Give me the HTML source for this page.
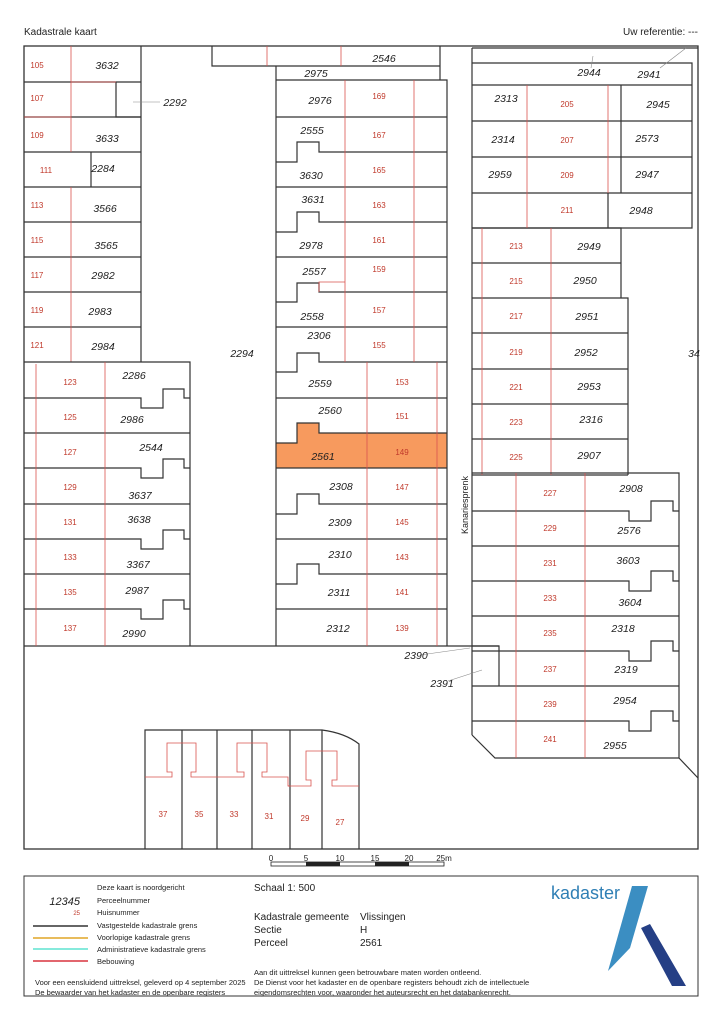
<!DOCTYPE html>
<html><head><meta charset="utf-8"><style>
html,body{margin:0;padding:0;background:#fff;}
svg{display:block;font-family:"Liberation Sans",sans-serif;}
.p{font-size:10.5px;font-style:italic;fill:#222;text-anchor:middle;}
.h{font-size:8px;fill:#c0392b;text-anchor:middle;}
.b{fill:none;stroke:#333;stroke-width:1.2;}
.r{fill:none;stroke:#d9534f;stroke-width:0.8;}
.l{font-size:7.5px;fill:#222;}
</style></head><body>
<svg width="724" height="1024" viewBox="0 0 724 1024" xmlns="http://www.w3.org/2000/svg">
<text x="24" y="35" font-size="10" fill="#222">Kadastrale kaart</text>
<text x="698" y="35" font-size="10" fill="#222" text-anchor="end">Uw referentie: ---</text>
<path d="M276,443 H297 V423 H319 V433 H447 V468 H276 Z" fill="#f79a5e"/>
<rect x="24" y="46" width="674" height="803" fill="none" stroke="#333" stroke-width="1.3"/>
<g class="b">
<path d="M141,46 V362"/>
<path d="M24,82 H141 M24,117 H141 M24,152 H141 M24,187 H141 M24,222 H141 M24,257 H141 M24,292 H141 M24,327 H141"/>
<path d="M116,82 V117 H141"/>
<path d="M91,152 V187"/>
</g>
<g class="r">
<path d="M71,46 V152 M71,187 V362 M24,117 H71 M71,82 H116"/>
</g>
<line x1="133" y1="102" x2="160" y2="102" stroke="#888" stroke-width="0.6"/>
<g class="b">
<path d="M24,362 H190 V646"/>
<path d="M24,398 H141 V408 H163 V389 H184 V398 H190"/>
<path d="M24,468 H141 V478 H163 V459 H184 V468 H190"/>
<path d="M24,539 H141 V549 H163 V530 H184 V539 H190"/>
<path d="M24,609 H141 V619 H163 V600 H184 V609 H190"/>
<path d="M24,433 H190 M24,504 H190 M24,574 H190"/>
<path d="M24,646 H499"/>
</g>
<g class="r"><path d="M36,364 V646 M105,362 V646"/></g>
<g class="b">
<path d="M212,46 V66 H440 V46 M276,66 V80 M440,66 V80 M276,80 H447 V646 M276,66 V646"/>
<path d="M276,117 H447 M276,187 H447 M276,257 H447 M276,327 H447 M276,398 H447 M276,468 H447 M276,539 H447 M276,609 H447"/>
<path d="M276,162 H297 V142 H319 V152 H447"/>
<path d="M276,232 H297 V212 H319 V222 H447"/>
<path d="M276,302 H297 V283 H319 V292 H447"/>
<path d="M276,372 H297 V353 H319 V362 H447"/>
<path d="M276,443 H297 V423 H319 V433 H447"/>
<path d="M276,514 H297 V494 H319 V504 H447"/>
<path d="M276,584 H297 V564 H319 V574 H447"/>
</g>
<g class="r">
<path d="M267,46 V66 M341,46 V66 M345,80 V362 M414,80 V362 M367,362 V646 M437,362 V646 M319,292 V282 H345"/>
</g>
<g class="b">
<path d="M472,48 H698 M472,48 V735 M472,63 H692 V228 H472 M472,85 H692 M472,121 H692 M472,157 H692 M472,193 H692"/>
<path d="M621,85 V193 M608,193 V228"/>
<path d="M472,228 H621 V298 M472,263 H621 M472,298 H628 V475 M472,333 H628 M472,369 H628 M472,404 H628 M472,439 H628 M472,475 H628"/>
</g>
<g class="r"><path d="M527,85 V228 M608,85 V193 M482,228 V475 M551,228 V475"/></g>
<line x1="593" y1="56" x2="591" y2="68" stroke="#888" stroke-width="0.6"/>
<line x1="660" y1="68" x2="686" y2="48" stroke="#888" stroke-width="0.6"/>
<g class="b">
<path d="M472,473 H679 V758 H495 L472,735"/>
<path d="M472,511 H629 V521 H651 V501 H673 V511 H679"/>
<path d="M472,581 H629 V591 H651 V571 H673 V581 H679"/>
<path d="M472,651 H629 V661 H651 V641 H673 V651 H679"/>
<path d="M472,721 H629 V731 H651 V711 H673 V721 H679"/>
<path d="M472,546 H679 M472,616 H679 M472,686 H679"/>
<path d="M679,758 L698,778"/>
<path d="M472,646 H499 V686"/>
</g>
<g class="r"><path d="M516,473 V758 M585,473 V758"/></g>
<line x1="420" y1="655" x2="470" y2="648" stroke="#888" stroke-width="0.6"/>
<line x1="448" y1="681" x2="482" y2="670" stroke="#888" stroke-width="0.6"/>
<g class="b">
<path d="M145,849 V730 H322 Q345,733 359,744 V849 M182,730 V849 M217,730 V849 M252,730 V849 M290,730 V849 M322,730 V849"/>
</g>
<g class="r">
<path d="M145,777 H172 V772 H167 V743 H196 V772 H191 V777 H217 M217,777 H244 V772 H237 V743 H267 V772 H262 V777 H288 V786 H290"/>
<path d="M288,786 H311 V780 H306 V751 H337 V780 H332 V786 H359"/>
</g>
<g class="h">
<text x="37" y="68">105</text><text x="37" y="101">107</text><text x="37" y="138">109</text><text x="46" y="173">111</text>
<text x="37" y="208">113</text><text x="37" y="243">115</text><text x="37" y="278">117</text><text x="37" y="313">119</text><text x="37" y="348">121</text>
<text x="70" y="385">123</text><text x="70" y="420">125</text><text x="70" y="455">127</text><text x="70" y="490">129</text>
<text x="70" y="525">131</text><text x="70" y="560">133</text><text x="70" y="595">135</text><text x="70" y="631">137</text>
<text x="379" y="99">169</text><text x="379" y="138">167</text><text x="379" y="173">165</text><text x="379" y="208">163</text>
<text x="379" y="243">161</text><text x="379" y="272">159</text><text x="379" y="313">157</text><text x="379" y="348">155</text>
<text x="402" y="385">153</text><text x="402" y="419">151</text><text x="402" y="455">149</text><text x="402" y="490">147</text>
<text x="402" y="525">145</text><text x="402" y="560">143</text><text x="402" y="595">141</text><text x="402" y="631">139</text>
<text x="567" y="107">205</text><text x="567" y="143">207</text><text x="567" y="178">209</text><text x="567" y="213">211</text>
<text x="516" y="249">213</text><text x="516" y="284">215</text><text x="516" y="319">217</text><text x="516" y="355">219</text>
<text x="516" y="390">221</text><text x="516" y="425">223</text><text x="516" y="460">225</text>
<text x="550" y="496">227</text><text x="550" y="531">229</text><text x="550" y="566">231</text><text x="550" y="601">233</text>
<text x="550" y="636">235</text><text x="550" y="672">237</text><text x="550" y="707">239</text><text x="550" y="742">241</text>
<text x="163" y="817">37</text><text x="199" y="817">35</text><text x="234" y="817">33</text><text x="269" y="819">31</text><text x="305" y="821">29</text><text x="340" y="825">27</text>
</g>
<g class="p">
<text x="107" y="69">3632</text><text x="175" y="106">2292</text><text x="107" y="142">3633</text><text x="103" y="172">2284</text>
<text x="105" y="212">3566</text><text x="106" y="249">3565</text><text x="103" y="279">2982</text><text x="100" y="315">2983</text><text x="103" y="350">2984</text>
<text x="242" y="357">2294</text>
<text x="134" y="379">2286</text><text x="132" y="423">2986</text><text x="151" y="451">2544</text><text x="140" y="499">3637</text>
<text x="139" y="523">3638</text><text x="138" y="568">3367</text><text x="137" y="594">2987</text><text x="134" y="637">2990</text>
<text x="384" y="62">2546</text><text x="316" y="77">2975</text>
<text x="320" y="104">2976</text><text x="312" y="134">2555</text><text x="311" y="179">3630</text><text x="313" y="203">3631</text>
<text x="311" y="249">2978</text><text x="314" y="275">2557</text><text x="312" y="320">2558</text><text x="319" y="339">2306</text>
<text x="320" y="387">2559</text><text x="330" y="414">2560</text><text x="323" y="460">2561</text><text x="341" y="490">2308</text>
<text x="340" y="526">2309</text><text x="340" y="558">2310</text><text x="339" y="596">2311</text><text x="338" y="632">2312</text>
<text x="589" y="76">2944</text><text x="649" y="78">2941</text><text x="506" y="102">2313</text><text x="658" y="108">2945</text>
<text x="503" y="143">2314</text><text x="647" y="142">2573</text><text x="500" y="178">2959</text><text x="647" y="178">2947</text>
<text x="641" y="214">2948</text><text x="589" y="250">2949</text><text x="585" y="284">2950</text><text x="587" y="320">2951</text>
<text x="586" y="356">2952</text><text x="589" y="390">2953</text><text x="591" y="423">2316</text><text x="589" y="459">2907</text>
<text x="694" y="357">34</text>
<text x="631" y="492">2908</text><text x="629" y="534">2576</text><text x="628" y="564">3603</text><text x="630" y="606">3604</text>
<text x="623" y="632">2318</text><text x="626" y="673">2319</text><text x="625" y="704">2954</text><text x="615" y="749">2955</text>
<text x="416" y="659">2390</text><text x="442" y="687">2391</text>
</g>
<text transform="translate(468,505) rotate(-90)" font-size="9" fill="#222" text-anchor="middle">Kanariesprenk</text>
<g font-size="8" fill="#222" text-anchor="middle">
<text x="271" y="861">0</text><text x="306" y="861">5</text><text x="340" y="861">10</text><text x="375" y="861">15</text><text x="409" y="861">20</text><text x="444" y="861">25m</text>
</g>
<rect x="271" y="862" width="173" height="4" fill="#fff" stroke="#222" stroke-width="0.8"/>
<rect x="306" y="862" width="34" height="4" fill="#222"/><rect x="375" y="862" width="34" height="4" fill="#222"/>
<rect x="24" y="876" width="674" height="120" fill="none" stroke="#333" stroke-width="1"/>
<g class="l">
<text x="97" y="890">Deze kaart is noordgericht</text>
<text x="97" y="903">Perceelnummer</text>
<text x="97" y="915">Huisnummer</text>
<text x="97" y="928">Vastgestelde kadastrale grens</text>
<text x="97" y="940">Voorlopige kadastrale grens</text>
<text x="97" y="952">Administratieve kadastrale grens</text>
<text x="97" y="964">Bebouwing</text>
<text x="35" y="985">Voor een eensluidend uittreksel, geleverd op 4 september 2025</text>
<text x="35" y="995">De bewaarder van het kadaster en de openbare registers</text>
<text x="254" y="975">Aan dit uittreksel kunnen geen betrouwbare maten worden ontleend.</text>
<text x="254" y="985">De Dienst voor het kadaster en de openbare registers behoudt zich de intellectuele</text>
<text x="254" y="995">eigendomsrechten voor, waaronder het auteursrecht en het databankenrecht.</text>
</g>
<text x="80" y="905" font-size="11" font-style="italic" fill="#222" text-anchor="end">12345</text>
<text x="80" y="915" font-size="6" fill="#c0392b" text-anchor="end">25</text>
<line x1="33" y1="926" x2="88" y2="926" stroke="#333" stroke-width="1.5"/>
<line x1="33" y1="938" x2="88" y2="938" stroke="#e0a526" stroke-width="1.5"/>
<line x1="33" y1="949" x2="88" y2="949" stroke="#5ee3d0" stroke-width="1.5"/>
<line x1="33" y1="961" x2="88" y2="961" stroke="#d9333f" stroke-width="1.5"/>
<g font-size="10" fill="#222">
<text x="254" y="891">Schaal 1: 500</text>
<text x="254" y="920">Kadastrale gemeente</text><text x="360" y="920">Vlissingen</text>
<text x="254" y="933">Sectie</text><text x="360" y="933">H</text>
<text x="254" y="946">Perceel</text><text x="360" y="946">2561</text>
</g>
<text x="551" y="899" font-size="18" fill="#2f7fb5">kadaster</text>
<polygon points="632,886 648,886 630,948 608,971" fill="#3b8ec2"/>
<polygon points="641,928 650,924 686,986 672,986" fill="#253f85"/>
</svg>
</body></html>
